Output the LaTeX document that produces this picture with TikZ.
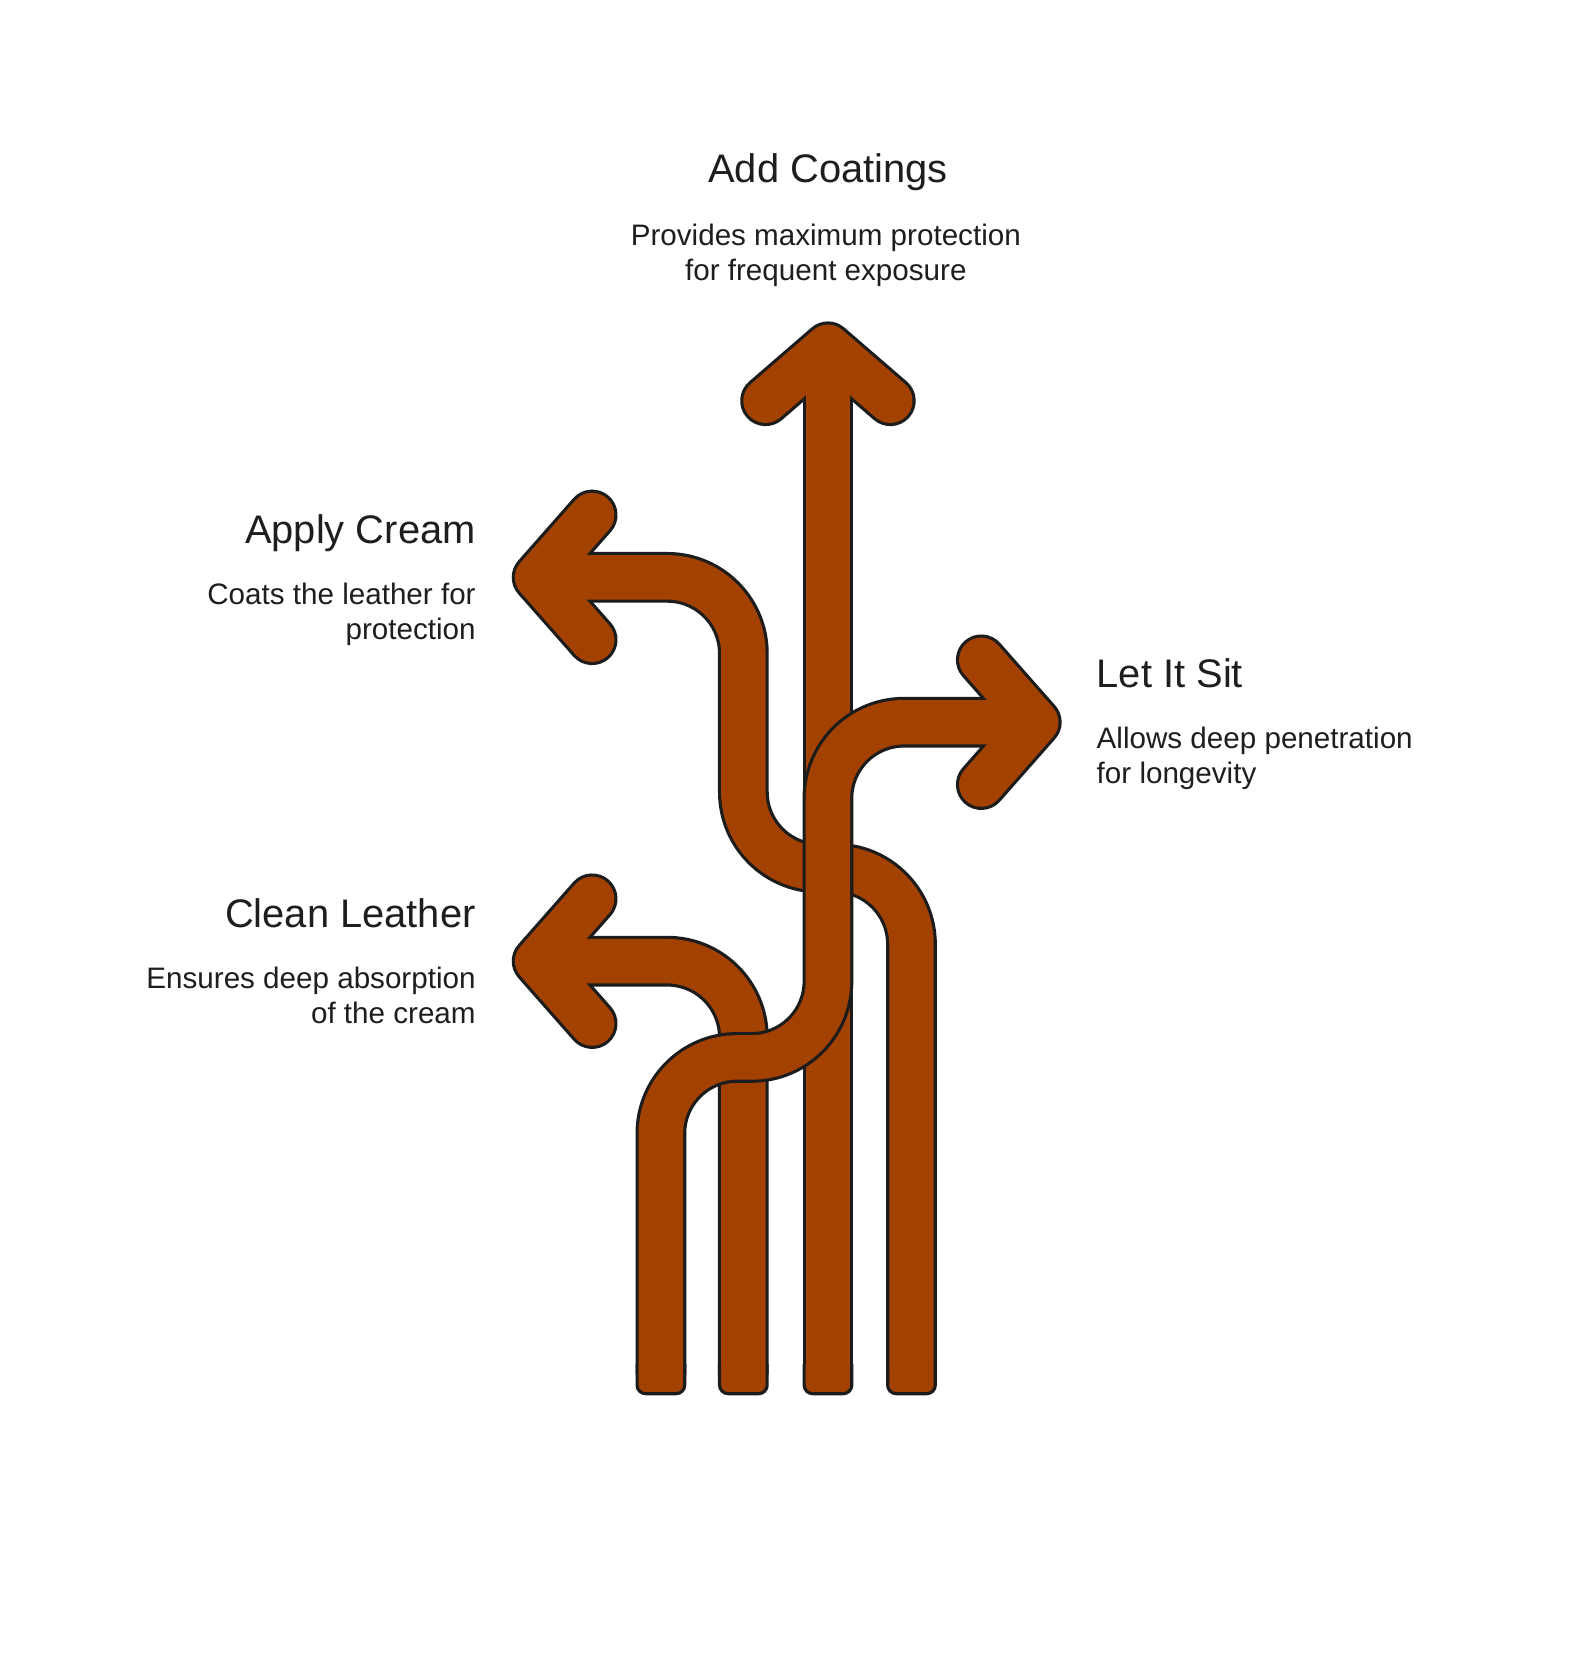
\documentclass[tikz,border=0pt]{standalone}
\usepackage{fontspec}
\setmainfont{Liberation Sans}
\definecolor{rust}{HTML}{A34100}
\definecolor{rim}{HTML}{1C1C1C}
\definecolor{ink}{HTML}{1E1E1E}
\tikzset{
  rimline/.style={draw=rim, line width=48pt, line join=round},
  bodyline/.style={draw=rust, line width=42pt, line join=round},
  roundbend/.style={rounded corners=72pt},
  headtxt/.style={inner sep=0pt, text=ink, font=\fontsize{37.7}{45}\selectfont},
  desctxt/.style={inner sep=0pt, text=ink, font=\fontsize{28}{33}\selectfont},
  footcap/.style={fill=rust, draw=rim, line width=3pt, rounded corners=8pt}
}
\newcommand\flowarrow[2]{%
  \draw[rimline, line cap=butt, roundbend] #1;
  \draw[rimline, line cap=round] #2;
  \draw[bodyline, line cap=butt, roundbend] #1;
  \draw[bodyline, line cap=round] #2;
}
\newcommand\stemfoot[1]{%
  \filldraw[footcap] (#1-22.5,1290) -- (#1-22.5,1318) -- (#1+22.5,1318) -- (#1+22.5,1290);
}
\begin{document}
\begin{tikzpicture}[x=1pt, y=-1pt]
\fill[white] (0,0) rectangle (1485,1568);
\useasboundingbox (0,0) rectangle (1485,1568);

% Apply Cream (bottom-most)
\flowarrow{(862,1300) -- (862,821) -- (703,821) -- (703,546) -- (508,546)}
          {(560,487) -- (508,546) -- (560,605)}
% Clean Leather
\flowarrow{(703,1300) -- (703,909) -- (508,909)}
          {(560,850) -- (508,909) -- (560,968)}
% Add Coatings
\flowarrow{(783,1300) -- (783,328)}
          {(724,379) -- (783,328) -- (842,379)}
% Let It Sit (top-most)
\flowarrow{(625,1300) -- (625,1000) -- (783,1000) -- (783,683) -- (980,683)}
          {(928,624) -- (980,683) -- (928,742)}

% stem feet
\stemfoot{625}
\stemfoot{703}
\stemfoot{783}
\stemfoot{862}

% labels
\node[headtxt, anchor=base] (tCoat) at (783,173) {Add Coatings};
\node[desctxt, anchor=base] (dCoat) at (781,232)
  {\begin{tabular}[t]{@{}c@{}}Provides maximum protection\\ for frequent exposure\end{tabular}};

\node[headtxt, anchor=base east] (tCream) at (450,514) {Apply Cream};
\node[desctxt, anchor=base east] (dCream) at (450,572)
  {\begin{tabular}[t]{@{}r@{}}Coats the leather for\\ protection\end{tabular}};

\node[headtxt, anchor=base west] (tSit) at (1037,650) {Let It Sit};
\node[desctxt, anchor=base west] (dSit) at (1037,708)
  {\begin{tabular}[t]{@{}l@{}}Allows deep penetration\\ for longevity\end{tabular}};

\node[headtxt, anchor=base east] (tClean) at (450,877) {Clean Leather};
\node[desctxt, anchor=base east] (dClean) at (450,935)
  {\begin{tabular}[t]{@{}r@{}}Ensures deep absorption\\ of the cream\end{tabular}};
\end{tikzpicture}
\end{document}
